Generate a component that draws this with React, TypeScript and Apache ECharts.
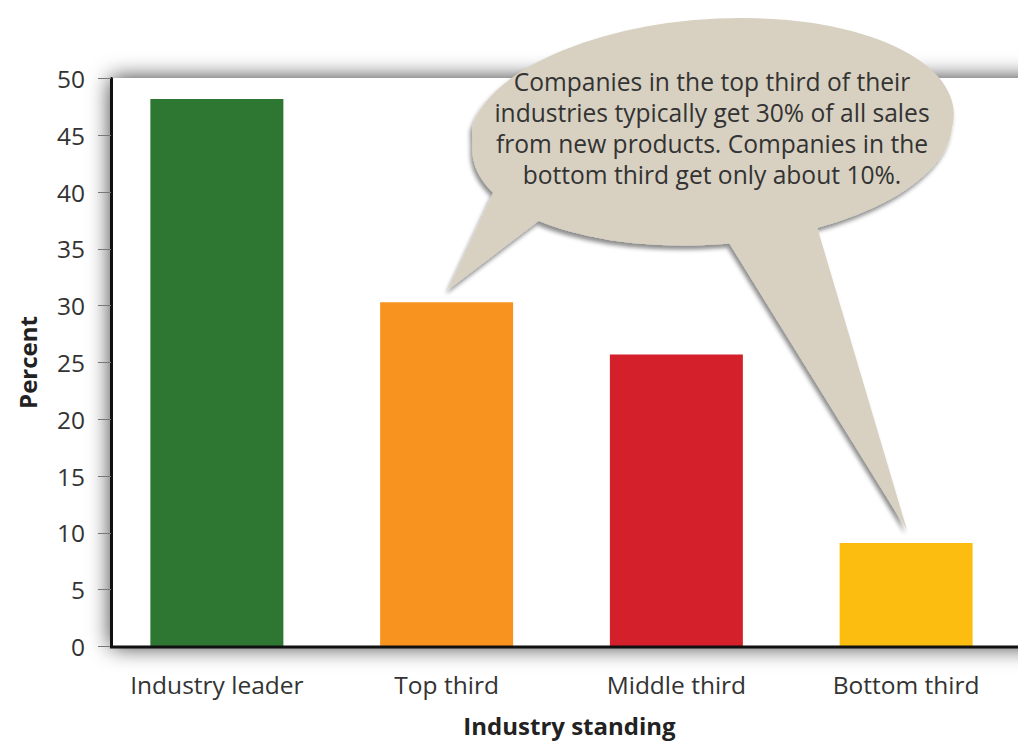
import React, { useEffect, useRef } from "react";
import * as echarts from "echarts";

const categories = ["Industry leader", "Top third", "Middle third", "Bottom third"];
const percents = [48.2, 30.3, 25.7, 9.1];
const barColors = ["#2e7732", "#f7931e", "#d4202b", "#fdbd10"];
const yMin = 0;
const yMax = 50;
const yStep = 5;
const xAxisTitle = "Industry standing";
const yAxisTitle = "Percent";
const calloutLines = [
  "Companies in the top third of their",
  "industries typically get 30% of all sales",
  "from new products. Companies in the",
  "bottom third get only about 10%.",
];

const FONT = "'Open Sans', 'Noto Sans', sans-serif";

function bubblePath(): string {
  const cx = 712, cy = 128, rx = 240, ry = 108, rotDeg = -4;
  const r = (rotDeg * Math.PI) / 180;
  const lx = cx - rx * Math.cos(r), ly = cy - rx * Math.sin(r);
  const rxp = cx + rx * Math.cos(r), ryp = cy + rx * Math.sin(r);
  const ell = `M ${lx} ${ly} A ${rx} ${ry} ${rotDeg} 1 0 ${rxp} ${ryp} A ${rx} ${ry} ${rotDeg} 1 0 ${lx} ${ly} Z`;
  const tail1 = `M 499 180 L 448 290 L 566 200 Z`;
  const tail2 = `M 718 225 L 907 530 L 812 210 Z`;
  return `${ell} ${tail1} ${tail2}`;
}

let registered = false;

export default function App() {
  const ref = useRef<HTMLDivElement>(null);
  useEffect(() => {
    if (!ref.current) return;
    if (!registered) {
      echarts.graphic.registerShape("bubble", echarts.graphic.extendPath(bubblePath(), {}) as any);
      registered = true;
    }
    const chart = echarts.init(ref.current, undefined, { renderer: "svg" });
    chart.setOption({
      animation: false,
      backgroundColor: "#ffffff",
      grid: { left: 102, right: -3, top: 78.5, bottom: 95.5, outerBoundsMode: "none" } as any,
      xAxis: {
        type: "category",
        data: categories,
        axisLine: { show: false },
        axisTick: { show: false },
        axisLabel: { color: "#333", fontSize: 24.5, fontFamily: FONT, margin: 25 },
        name: xAxisTitle,
        nameLocation: "middle",
        nameGap: 67,
        nameTextStyle: {
          color: "#222",
          fontSize: 24,
          fontWeight: "bold",
          fontFamily: FONT,
          padding: [0, 0, 0, 16],
        },
      },
      yAxis: {
        type: "value",
        min: yMin,
        max: yMax,
        interval: yStep,
        offset: -9,
        axisLine: { show: true, lineStyle: { color: "#111", width: 3 } },
        axisTick: { show: true, length: 13, lineStyle: { color: "#777", width: 1 } },
        splitLine: { show: false },
        axisLabel: { color: "#333", fontSize: 24.5, fontFamily: FONT, margin: 26 },
        name: yAxisTitle,
        nameLocation: "middle",
        nameGap: 72,
        nameTextStyle: { color: "#222", fontSize: 24, fontWeight: "bold", fontFamily: FONT },
      },
      series: [
        {
          type: "bar",
          data: percents.map((v, i) => ({ value: v, itemStyle: { color: barColors[i] } })),
          barWidth: 133,
          z: 2,
        },
      ],
      graphic: [
        {
          type: "rect",
          z: -10,
          shape: { x: 111, y: 78, width: 1000, height: 569 },
          style: { fill: "#ffffff", shadowBlur: 22, shadowColor: "rgba(0,0,0,0.8)" },
          silent: true,
        },
        {
          type: "line",
          z: 5,
          shape: { x1: 110, y1: 647, x2: 1018, y2: 647 },
          style: { stroke: "#111", lineWidth: 3 },
          silent: true,
        },
        {
          type: "bubble",
          z: 50,
          x: 0,
          y: 0,
          style: {
            fill: "#d8d1c1",
            shadowBlur: 4,
            shadowOffsetX: -2,
            shadowOffsetY: 4,
            shadowColor: "rgba(0,0,0,0.45)",
          },
          silent: true,
        },
        {
          type: "text",
          z: 60,
          x: 712,
          y: 128,
          style: {
            text: calloutLines.join("\n"),
            fill: "#333",
            fontSize: 24.6,
            fontFamily: FONT,
            lineHeight: 31,
            align: "center",
            verticalAlign: "middle",
          },
          silent: true,
        },
      ],
    });
    return () => chart.dispose();
  }, []);
  return (
    <div
      ref={ref}
      style={{ position: "fixed", left: 0, top: 0, width: 1018, height: 742 }}
    />
  );
}
